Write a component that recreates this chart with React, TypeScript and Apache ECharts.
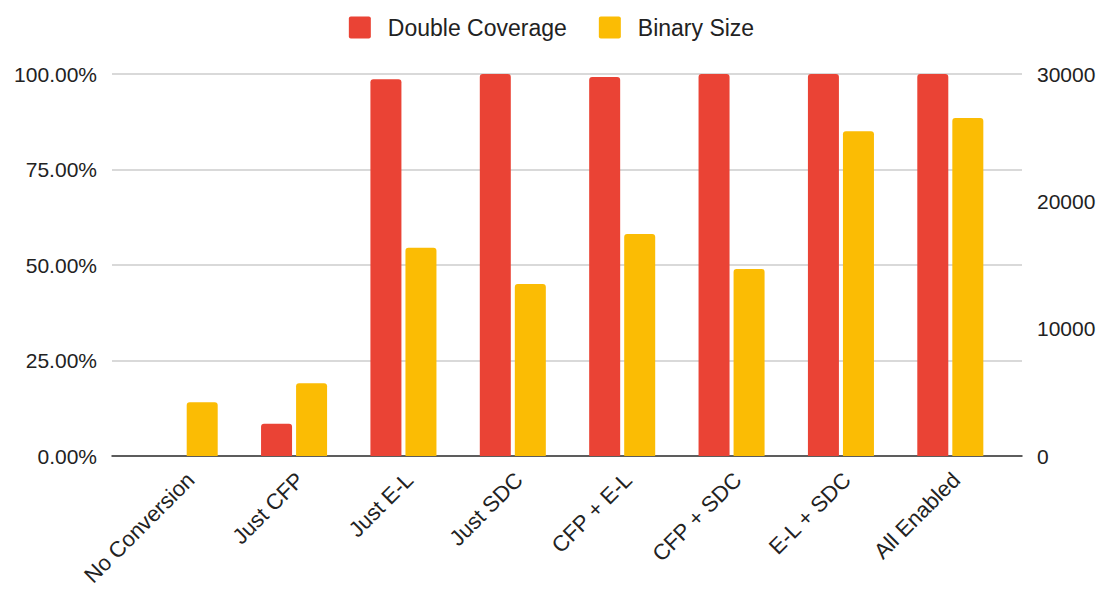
import React, { useEffect, useRef } from "react";
import * as echarts from "echarts";

const categories = [
  "No Conversion",
  "Just CFP",
  "Just E-L",
  "Just SDC",
  "CFP + E-L",
  "CFP + SDC",
  "E-L + SDC",
  "All Enabled",
];
const doubleCoverage = [0, 8.46, 98.6, 100, 99.2, 100, 100, 100];
const binarySize = [4220, 5710, 16360, 13500, 17430, 14690, 25500, 26550];

const leftMin = 0;
const leftMax = 100;
const leftInterval = 25;
const rightMin = 0;
const rightMax = 30000;
const rightInterval = 10000;

const RED = "#EA4335";
const YELLOW = "#FBBC04";
const FONT = "'Liberation Sans', Arial, sans-serif";

export default function App() {
  const ref = useRef<HTMLDivElement>(null);
  useEffect(() => {
    if (!ref.current) return;
    const chart = echarts.init(ref.current, null, { renderer: "svg" });
    const option: any = {
      animation: false,
      backgroundColor: "#fff",
      textStyle: { fontFamily: FONT },
      legend: {
        top: 11,
        left: "center",
        icon: "path://M2,0 L20,0 Q22,0 22,2 L22,20 Q22,22 20,22 L2,22 Q0,22 0,20 L0,2 Q0,0 2,0 Z",
        itemWidth: 22,
        itemHeight: 22,
        itemGap: 32,
        textStyle: { fontSize: 23, color: "#222", fontFamily: FONT, padding: [0, 0, 0, 12] },
        data: ["Double Coverage", "Binary Size"],
      },
      grid: [
        { left: 112, right: 81, top: 74, bottom: 133 },
        { left: 130, right: 98, top: 74, bottom: 133 },
        { left: 136, right: 92, top: 74, bottom: 133 },
      ],
      xAxis: [
        {
          gridIndex: 0,
          type: "category",
          data: categories,
          axisLine: { lineStyle: { color: "#333", width: 1.5 } },
          axisTick: { show: false },
          axisLabel: { show: false },
        },
        { gridIndex: 1, type: "category", data: categories, show: false },
        {
          gridIndex: 2,
          type: "category",
          data: categories,
          axisLine: { show: false },
          axisTick: { show: false },
          axisLabel: {
            rotate: 45,
            interval: 0,
            fontSize: 22,
            color: "#222",
            margin: 30,
            fontFamily: FONT,
          },
        },
      ],
      yAxis: [
        {
          gridIndex: 0,
          type: "value",
          position: "left",
          min: leftMin,
          max: leftMax,
          interval: leftInterval,
          axisLine: { show: false },
          axisTick: { show: false },
          axisLabel: {
            fontSize: 21,
            color: "#222",
            margin: 15,
            fontFamily: FONT,
            formatter: (v: number) => v.toFixed(2) + "%",
          },
          splitLine: { lineStyle: { color: "#ccc", width: 1.5 } },
        },
        {
          gridIndex: 0,
          type: "value",
          position: "right",
          min: rightMin,
          max: rightMax,
          interval: rightInterval,
          axisLine: { show: false },
          axisTick: { show: false },
          axisLabel: {
            fontSize: 21,
            color: "#222",
            margin: 15,
            fontFamily: FONT,
            formatter: (v: number) => String(v),
          },
          splitLine: { show: false },
        },
        { gridIndex: 1, type: "value", min: leftMin, max: leftMax, show: false },
        { gridIndex: 1, type: "value", min: rightMin, max: rightMax, show: false },
        { gridIndex: 2, type: "value", min: 0, max: 1, show: false },
      ],
      series: [
        {
          name: "Double Coverage",
          type: "bar",
          xAxisIndex: 1,
          yAxisIndex: 2,
          data: doubleCoverage,
          barWidth: 31,
          barGap: "13%",
          itemStyle: { color: RED, borderRadius: [3, 3, 0, 0] },
        },
        {
          name: "Binary Size",
          type: "bar",
          xAxisIndex: 1,
          yAxisIndex: 3,
          data: binarySize,
          barWidth: 31,
          barGap: "13%",
          itemStyle: { color: YELLOW, borderRadius: [3, 3, 0, 0] },
        },
      ],
    };
    chart.setOption(option);
    return () => chart.dispose();
  }, []);
  return (
    <div
      ref={ref}
      style={{ position: "fixed", left: 0, top: 0, width: 1103, height: 589 }}
    />
  );
}
